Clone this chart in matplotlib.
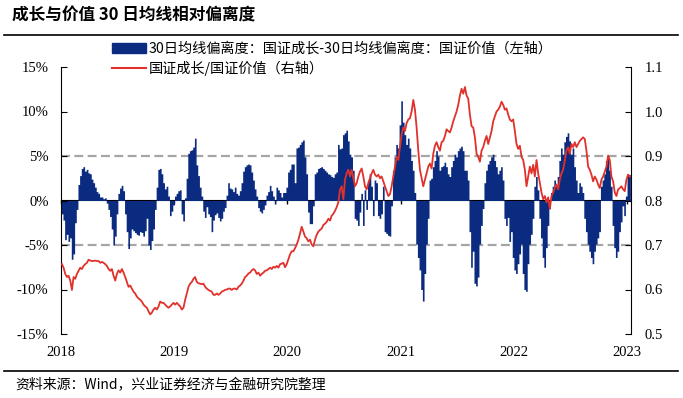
import numpy as np
import pandas as pd
import matplotlib
matplotlib.use('Agg')
import matplotlib.pyplot as plt
import matplotlib.dates as mdates
from matplotlib.patches import Patch
from matplotlib.lines import Line2D

plt.rcParams['font.family'] = ['Noto Sans CJK SC', 'DejaVu Sans']

# 30日均线偏离度差值（%），按年份分段读取
dev_2018 = [-1.5, -2.2, -4.4, -3.8, -4.6, -4.2, -6.6, -6.0, -2.5, -1.0,
            1.8, 2.8, 3.6, 3.8, 3.3, 3.5, 3.1, 3.0, 2.4, 2.0,
            1.5, 1.0, 0.8, 0.4, 0.4, 0.2, 0.3, -0.3, -1.0, -1.8,
            -3.2, -5.0, -4.0, -1.5, 0.8, 1.4, 1.7, 1.1, -1.5, -3.5,
            -5.4, -4.2, -3.2, -3.4, -3.6, -3.8, -3.9, -3.5, -3.6, -4.0,
            -3.4, -2.0, -5.0, -5.5, -4.5, -3.2, -1.0, 1.5, 3.5, 3.6,
            3.0, 2.0, 1.3, 1.6, 0.5, -1.7, -1.2, -0.5]
dev_2019 = [0.5, 0.8, 1.1, 1.2, -1.5, -2.3, 0.3, 2.5, 5.3, 5.6,
            5.7, 6.0, 7.0, 4.0, 2.8, 1.5, 0.5, -1.2, -1.9, -0.7,
            -1.5, -1.8, -3.5, -2.2, -1.6, -1.4, -1.9, -2.3, -2.0, -1.2,
            -0.8, 0.6, 2.0, 1.4, 1.3, 1.0, 1.5, 0.8, 0.6, 1.1,
            2.0, 3.3, 3.8, 4.0, 4.1, 4.0, 3.2, 2.3, 1.3, 0.5,
            -0.8, -1.2, -1.4, -1.0, -0.5, 0.6, 1.0, 1.7, 1.1, 0.5,
            -0.4, 1.5, 1.2, 0.9, 0.4, 0.9]
dev_2020 = [0.9, 1.5, 3.2, 3.5, 4.1, 4.1, 2.0, 5.9, 6.0, 6.3,
            6.6, 6.8, 4.9, 3.0, -1.3, -2.6, -2.6, -0.6, 3.0, 3.2,
            3.6, 3.7, 3.8, 3.6, 3.4, 3.2, 3.0, 2.9, 2.7, 2.6,
            3.0, 3.2, 6.3, 5.8, 5.9, 7.4, 7.6, 7.9, 6.7, 5.2,
            4.9, 3.4, -2.0, -2.2, -2.8, -1.3, 0.8, -2.8, 1.2, -1.0,
            2.3, 3.0, 1.6, -1.7, 2.3, 2.0, -1.7, -2.0, -1.5, 1.6,
            -3.5, -3.7, -3.9, -4.0, -0.6, 3.4, 4.9, 6.3]
dev_2021 = [5.9, 8.5, 11.2, 8.8, 7.4, 6.3, 7.0, 5.9, 4.5, 3.4,
            0.9, -4.9, -6.4, -7.8, -10.0, -11.3, -8.2, -4.9, -2.0, 2.3,
            2.5, 3.8, 4.5, 5.6, 5.0, 3.4, 3.8, 3.9, 4.3, 3.8,
            3.0, 2.7, 3.8, 4.5, 5.2, 4.9, 5.6, 5.9, 6.1, 5.6,
            3.4, 3.4, 2.3, -3.5, -7.5, -5.7, -9.3, -9.6, -8.6, -4.9,
            -2.8, -0.9, 2.0, 3.4, 4.1, 4.5, 4.9, 5.2, 4.5, 3.8,
            3.0, 3.4, 3.8, 2.3, -2.0, -2.8, -1.9, -4.6]
dev_2022 = [-3.5, -6.4, -7.8, -8.2, -7.1, -6.0, -4.9, -8.2, -10.0, -10.2,
            -7.1, -4.9, -3.8, -2.0, 1.6, 2.7, 1.2, -2.0, -4.2, -6.4,
            -7.5, -5.3, -2.8, -0.9, 0.9, 1.6, 2.3, 1.6, 2.7, 4.5,
            5.9, 5.2, 6.6, 7.2, 7.6, 6.7, 5.2, 5.9, 3.8, 2.3,
            0.9, 2.0, 1.6, 0.9, -2.0, -3.5, -4.9, -5.7, -6.4, -7.1,
            -5.7, -4.9, -4.2, -3.5, 1.6, 2.3, 3.0, 4.5, 5.0, 3.4,
            1.6, -2.8, -5.3, -6.4, -5.7, -3.5, -2.4, -0.6, -1.7, 0.5,
            3.0, 2.9]

# 国证成长/国证价值
ratio_2018 = [0.657, 0.649, 0.635, 0.628, 0.631, 0.620, 0.599, 0.628, 0.624, 0.635,
              0.642, 0.649, 0.646, 0.653, 0.657, 0.660, 0.667, 0.665, 0.664, 0.664,
              0.665, 0.664, 0.664, 0.660, 0.662, 0.660, 0.657, 0.653, 0.646, 0.642,
              0.646, 0.631, 0.620, 0.635, 0.643, 0.638, 0.646, 0.638, 0.628, 0.617,
              0.606, 0.609, 0.602, 0.595, 0.591, 0.584, 0.580, 0.577, 0.573, 0.566,
              0.562, 0.559, 0.551, 0.544, 0.548, 0.555, 0.559, 0.555, 0.562, 0.573,
              0.570, 0.570, 0.566, 0.562, 0.559, 0.562, 0.566, 0.570]
ratio_2019 = [0.566, 0.570, 0.566, 0.562, 0.555, 0.559, 0.577, 0.591, 0.606, 0.613,
              0.617, 0.624, 0.628, 0.617, 0.614, 0.613, 0.612, 0.613, 0.606, 0.602,
              0.599, 0.597, 0.595, 0.588, 0.588, 0.591, 0.588, 0.591, 0.595, 0.597,
              0.599, 0.600, 0.602, 0.602, 0.599, 0.602, 0.602, 0.600, 0.606, 0.609,
              0.613, 0.620, 0.628, 0.631, 0.636, 0.638, 0.643, 0.646, 0.643, 0.635,
              0.638, 0.631, 0.635, 0.638, 0.642, 0.643, 0.646, 0.649, 0.646, 0.651,
              0.649, 0.653, 0.649, 0.657, 0.658, 0.660]
ratio_2020 = [0.650, 0.657, 0.668, 0.679, 0.686, 0.686, 0.693, 0.701, 0.712, 0.726,
              0.741, 0.730, 0.719, 0.715, 0.708, 0.712, 0.701, 0.697, 0.712, 0.723,
              0.730, 0.734, 0.737, 0.745, 0.748, 0.752, 0.759, 0.755, 0.766, 0.770,
              0.777, 0.785, 0.796, 0.825, 0.832, 0.803, 0.847, 0.861, 0.869, 0.854,
              0.869, 0.850, 0.832, 0.839, 0.854, 0.865, 0.872, 0.854, 0.832, 0.825,
              0.839, 0.850, 0.861, 0.869, 0.858, 0.854, 0.858, 0.850, 0.854, 0.843,
              0.832, 0.821, 0.810, 0.814, 0.832, 0.854, 0.876, 0.898]
ratio_2021 = [0.891, 0.920, 0.949, 0.964, 0.956, 0.974, 0.982, 0.985, 1.000, 1.026,
              1.004, 0.964, 0.912, 0.869, 0.850, 0.832, 0.847, 0.861, 0.876, 0.883,
              0.872, 0.905, 0.923, 0.931, 0.920, 0.912, 0.931, 0.934, 0.945, 0.960,
              0.956, 0.953, 0.964, 0.978, 0.989, 1.000, 1.015, 1.036, 1.051, 1.040,
              1.055, 1.036, 1.029, 0.993, 0.967, 0.964, 0.942, 0.905, 0.898, 0.887,
              0.912, 0.920, 0.934, 0.945, 0.927, 0.942, 0.956, 0.978, 0.989, 1.000,
              1.004, 1.011, 1.022, 1.015, 1.004, 1.007, 0.993, 0.982]
ratio_2022 = [0.978, 0.982, 0.956, 0.927, 0.916, 0.923, 0.898, 0.891, 0.869, 0.832,
              0.854, 0.876, 0.861, 0.880, 0.854, 0.891, 0.861, 0.839, 0.818, 0.803,
              0.810, 0.796, 0.807, 0.781, 0.810, 0.818, 0.828, 0.836, 0.825, 0.847,
              0.861, 0.869, 0.891, 0.912, 0.920, 0.905, 0.927, 0.920, 0.931, 0.920,
              0.927, 0.934, 0.938, 0.942, 0.938, 0.912, 0.876, 0.869, 0.858, 0.843,
              0.854, 0.847, 0.836, 0.828, 0.847, 0.854, 0.865, 0.876, 0.901, 0.891,
              0.854, 0.843, 0.818, 0.810, 0.825, 0.828, 0.832, 0.825, 0.821, 0.847,
              0.858, 0.854]

YEARS = [2018, 2019, 2020, 2021, 2022, 2023]
LABEL_DEV = '30日均线偏离度：国证成长-30日均线偏离度：国证价值（左轴）'
LABEL_RATIO = '国证成长/国证价值（右轴）'

NAVY = '#0B2B80'
RED = '#E0312B'
GREY = '#A6A6A6'
SERIF = 'Liberation Serif'

dev = np.array(dev_2018 + dev_2019 + dev_2020 + dev_2021 + dev_2022)
ratio = np.array(ratio_2018 + ratio_2019 + ratio_2020 + ratio_2021 + ratio_2022)

edges = mdates.date2num(pd.date_range('2018-01-02', '2023-01-12', periods=len(dev) + 1))
redx = mdates.date2num(pd.date_range('2018-01-04', '2023-01-10', periods=len(ratio)))

fig = plt.figure(figsize=(6.83, 3.98), dpi=100)
ax = fig.add_axes([61/683, 1 - 334/398, 570/683, 267/398])

for v in (5, -5):
	ax.axhline(v, color=GREY, lw=1.6, ls=(0, (4, 2)), zorder=0)
# each value fills its own period, drawn as one solid stepped area
ax.fill_between(edges, np.append(dev, dev[-1]), 0, step='post',
	color=NAVY, linewidth=0, zorder=1)

ax.set_ylim(-15, 15)
ax.set_xlim(mdates.date2num(pd.Timestamp('2018-01-01')), mdates.date2num(pd.Timestamp('2023-01-14')))
ax.set_yticks(range(-15, 16, 5))
ax.set_yticklabels([f'{v}%' for v in range(-15, 16, 5)], fontfamily=SERIF, fontsize=10.5)
year_ticks = [mdates.date2num(pd.Timestamp(f'{y}-01-01')) for y in YEARS]
ax.set_xticks(year_ticks)
ax.set_xticklabels([str(y) for y in YEARS], fontfamily=SERIF, fontsize=10.5)
ax.tick_params(axis='x', length=0, pad=9)
ax.tick_params(axis='y', direction='in', length=4, pad=9)
for s in ('top', 'bottom', 'right'):
	ax.spines[s].set_visible(False)

# zero line with year ticks
sec = ax.secondary_xaxis(0.5)
sec.set_xticks(year_ticks)
sec.set_xticklabels([])
sec.tick_params(direction='in', length=3, width=1, labelbottom=False, labeltop=False)
sec.spines['bottom'].set_linewidth(1.5)

ax2 = ax.twinx()
ax2.plot(redx, ratio, color=RED, lw=1.3)
ax2.set_ylim(0.5, 1.1)
ax2.set_yticks(np.arange(0.5, 1.101, 0.1))
ax2.set_yticklabels([f'{v:.1f}' for v in np.arange(0.5, 1.101, 0.1)], fontfamily=SERIF, fontsize=10.5)
ax2.tick_params(axis='y', direction='in', length=4, pad=10)
for s in ('top', 'bottom', 'left'):
	ax2.spines[s].set_visible(False)

handles = [Patch(color=NAVY), Line2D([], [], color=RED, lw=1.5)]
fig.legend(handles, [LABEL_DEV, LABEL_RATIO], loc='upper left',
	bbox_to_anchor=(112/683, 1 - 42/398), frameon=False, fontsize=10.2,
	handlelength=2.4, handletextpad=0.2, labelspacing=0.35,
	borderpad=0, borderaxespad=0)

fig.text(12/683, 1 - 16/398, '成长与价值 30 日均线相对偏离度', fontsize=12,
	fontweight='bold', va='center', ha='left')
fig.add_artist(Line2D([4/683, 678/683], [1 - 35/398] * 2, color='black', lw=1.2, transform=fig.transFigure))
fig.add_artist(Line2D([4/683, 678/683], [1 - 371/398] * 2, color='black', lw=1.2, transform=fig.transFigure))
fig.text(15/683, 1 - 385/398, '资料来源：Wind，兴业证券经济与金融研究院整理', fontsize=10, va='center')

fig.savefig('out.png', dpi=100)
